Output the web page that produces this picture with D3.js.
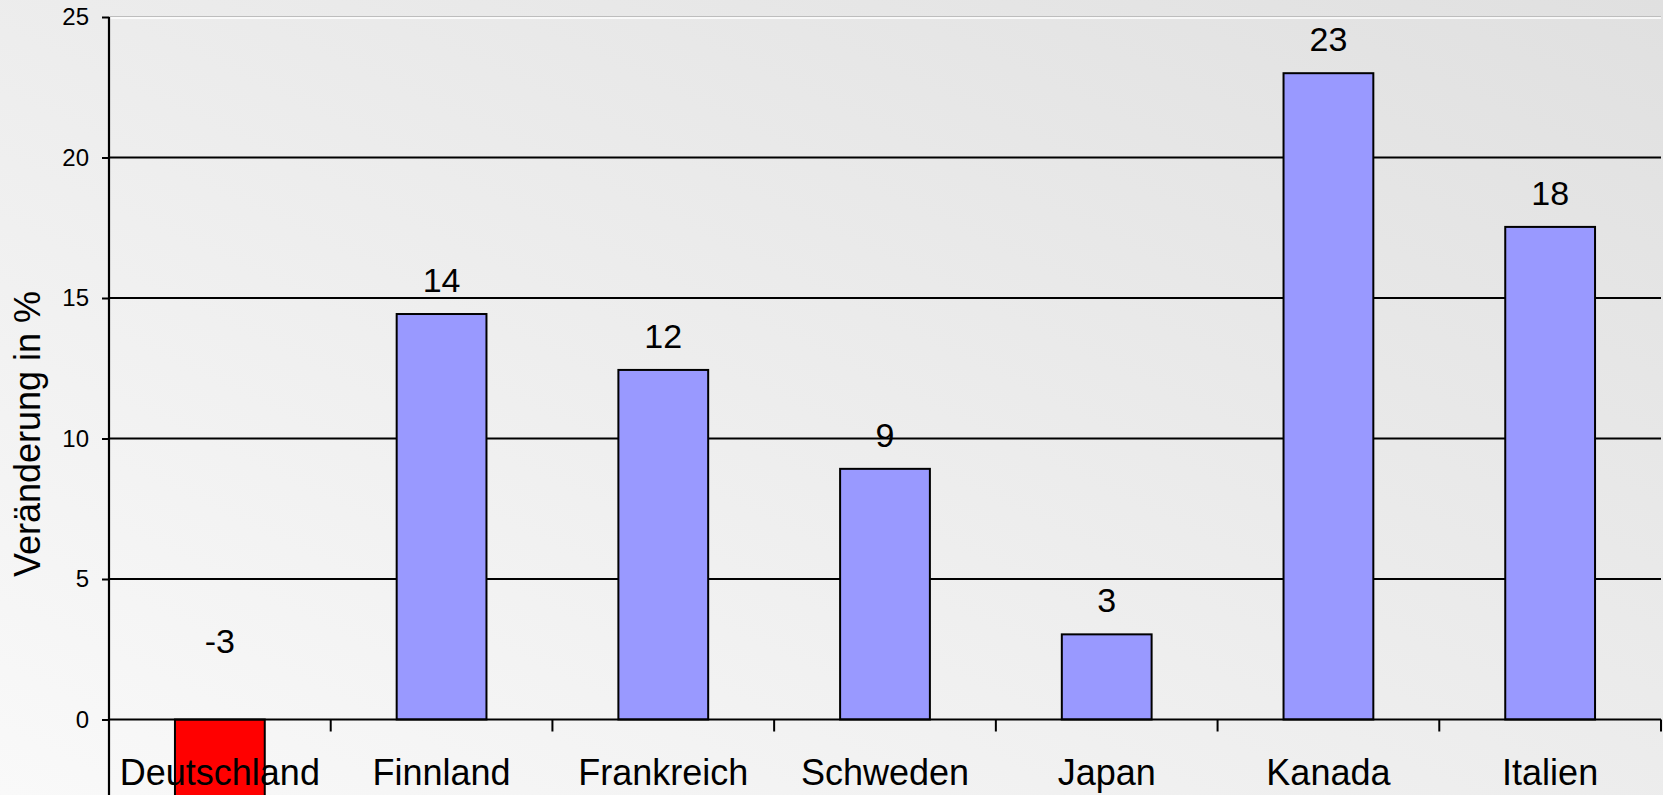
<!DOCTYPE html>
<html>
<head>
<meta charset="utf-8">
<script src="https://cdn.jsdelivr.net/npm/d3@7"></script>
<style>
  html, body { margin: 0; padding: 0; overflow: hidden; }
  svg { display: block; font-family: "Liberation Sans", Arial, sans-serif; }
</style>
</head>
<body>
<div id="chart"></div>
<script>
// data
const categories = ["Deutschland", "Finnland", "Frankreich", "Schweden", "Japan", "Kanada", "Italien"];
const values = [-3.0, 14.43, 12.44, 8.92, 3.03, 23.0, 17.53];
const valueLabels = ["-3", "14", "12", "9", "3", "23", "18"];
const yTicks = [0, 5, 10, 15, 20, 25];
const yTitle = "Veränderung in %";

const width = 1663, height = 795;
const margin = {top: 17, right: 2, left: 109};
const zeroY = 719.5;

const svg = d3.select("#chart").append("svg")
    .attr("width", width)
    .attr("height", height);

// background gradient
const defs = svg.append("defs");
const grad = defs.append("linearGradient")
    .attr("id", "bgGrad")
    .attr("x1", 0).attr("y1", 1).attr("x2", 1).attr("y2", 0);
grad.append("stop").attr("offset", "0%").attr("stop-color", "#f9f9f9");
grad.append("stop").attr("offset", "100%").attr("stop-color", "#e0e0e0");

svg.append("rect")
    .attr("width", width).attr("height", height)
    .attr("fill", "url(#bgGrad)");

const xScale = d3.scaleBand()
    .domain(categories)
    .range([margin.left, width - margin.right])
    .padding(0);
const barWidth = xScale.bandwidth() * 0.405;

const yScale = d3.scaleLinear()
    .domain([0, 25])
    .range([zeroY, margin.top]);

// plot area top border
svg.append("line")
    .attr("x1", margin.left).attr("x2", width - margin.right)
    .attr("y1", yScale(25) - 0.5).attr("y2", yScale(25) - 0.5)
    .attr("stroke", "#bdbdbd").attr("stroke-width", 1);
svg.append("line")
    .attr("x1", margin.left).attr("x2", width - margin.right)
    .attr("y1", yScale(25) + 1).attr("y2", yScale(25) + 1)
    .attr("stroke", "#ffffff").attr("stroke-width", 1.5);

// gridlines
svg.append("g").attr("class", "grid")
    .selectAll("line")
    .data(yTicks.filter(d => d > 0 && d < 25))
    .join("line")
    .attr("x1", margin.left).attr("x2", width - margin.right)
    .attr("y1", d => yScale(d)).attr("y2", d => yScale(d))
    .attr("stroke", "#000").attr("stroke-width", 2);

// bars
svg.append("g").attr("class", "bars")
    .selectAll("rect")
    .data(categories)
    .join("rect")
    .attr("x", (d) => xScale(d) + (xScale.bandwidth() - barWidth) / 2)
    .attr("y", (d, i) => yScale(Math.max(0, values[i])))
    .attr("width", barWidth)
    .attr("height", (d, i) => Math.abs(yScale(values[i]) - yScale(0)))
    .attr("fill", (d, i) => values[i] < 0 ? "#ff0000" : "#9999ff")
    .attr("stroke", "#000")
    .attr("stroke-width", 2);

// value labels
svg.append("g").attr("class", "valueLabels")
    .selectAll("text")
    .data(categories)
    .join("text")
    .attr("x", d => xScale(d) + xScale.bandwidth() / 2)
    .attr("y", (d, i) => values[i] >= 0 ? yScale(values[i]) - 22 : yScale(-values[i]) + 18)
    .attr("text-anchor", "middle")
    .attr("font-size", 34)
    .attr("fill", "#000")
    .text((d, i) => valueLabels[i]);

// y axis
const yAxis = svg.append("g")
    .attr("transform", "translate(" + margin.left + ",0)")
    .call(d3.axisLeft(yScale).tickValues(yTicks).tickSize(7).tickPadding(13));
yAxis.select(".domain").remove();
yAxis.selectAll(".tick line").attr("stroke", "#000").attr("stroke-width", 2);
yAxis.selectAll(".tick text")
    .style("font-size", "24px")
    .style("font-family", "'Liberation Sans', Arial, sans-serif")
    .attr("fill", "#000");

svg.append("line")
    .attr("x1", margin.left).attr("x2", margin.left)
    .attr("y1", yScale(25)).attr("y2", height)
    .attr("stroke", "#000").attr("stroke-width", 2.2);

// x axis line + ticks at band boundaries
svg.append("line")
    .attr("x1", margin.left).attr("x2", width - margin.right)
    .attr("y1", yScale(0)).attr("y2", yScale(0))
    .attr("stroke", "#000").attr("stroke-width", 2.2);

svg.append("g").attr("class", "xTicks")
    .selectAll("line")
    .data(categories)
    .join("line")
    .attr("x1", d => xScale(d) + xScale.bandwidth())
    .attr("x2", d => xScale(d) + xScale.bandwidth())
    .attr("y1", yScale(0)).attr("y2", yScale(0) + 12)
    .attr("stroke", "#000").attr("stroke-width", 2);

// category labels
svg.append("g").attr("class", "catLabels")
    .selectAll("text")
    .data(categories)
    .join("text")
    .attr("x", d => xScale(d) + xScale.bandwidth() / 2)
    .attr("y", 785)
    .attr("text-anchor", "middle")
    .attr("font-size", 36)
    .attr("fill", "#000")
    .text(d => d);

// y title
svg.append("text")
    .attr("transform", "translate(40,434) rotate(-90)")
    .attr("text-anchor", "middle")
    .attr("font-size", 36)
    .attr("fill", "#000")
    .text(yTitle);
</script>
</body>
</html>
